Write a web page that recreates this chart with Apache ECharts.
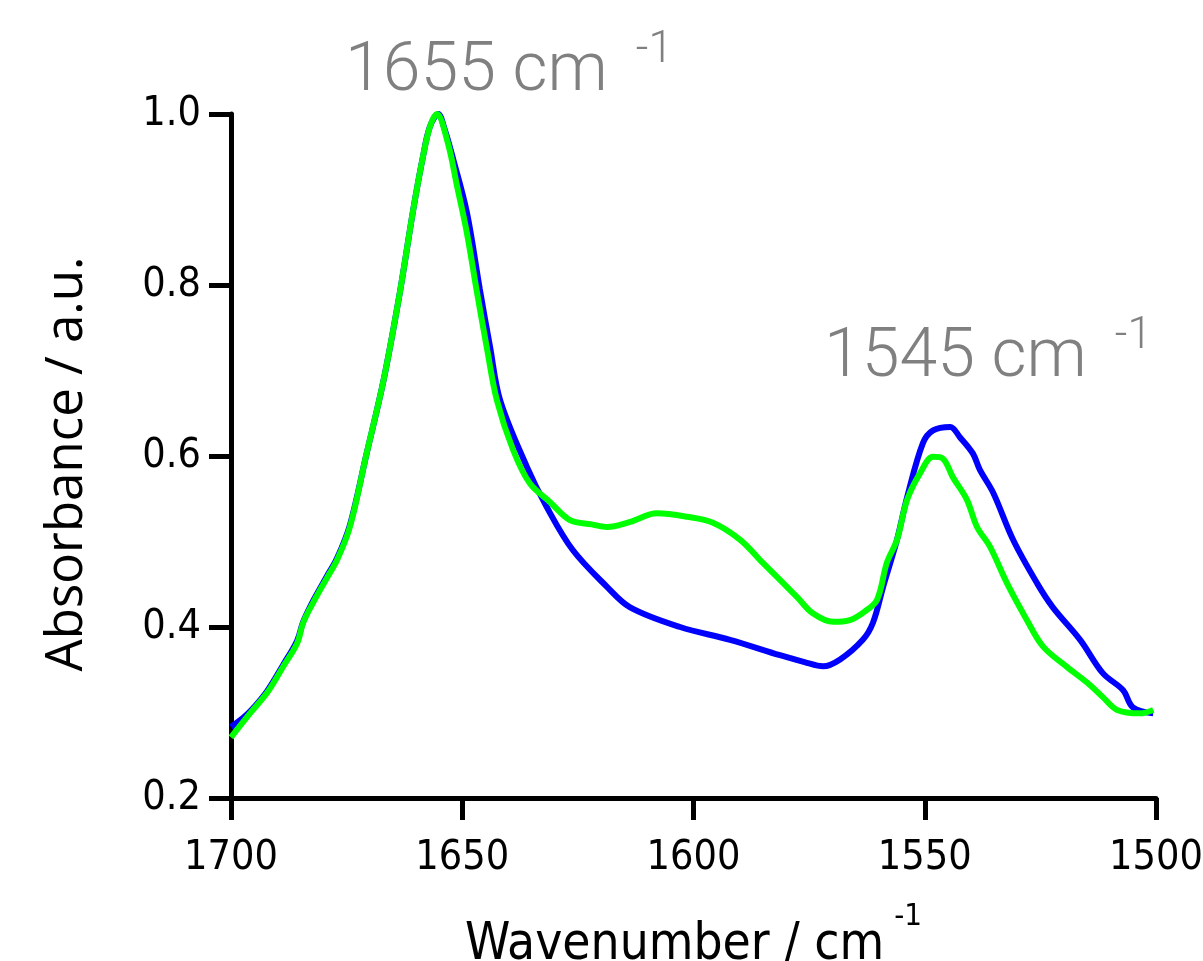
<!DOCTYPE html>
<html>
<head>
<meta charset="utf-8">
<script src="https://cdn.jsdelivr.net/npm/echarts@6/dist/echarts.min.js"></script>
<style>
html,body{margin:0;padding:0;background:#fff;overflow:hidden;}
#main{width:1203px;height:961px;}
</style>
</head>
<body>
<div id="main"></div>
<script>
// ---- data ----
const xTicks = [1700, 1650, 1600, 1550, 1500];
const yTicks = [0.2, 0.4, 0.6, 0.8, 1.0];

const blueWavenumber = [1700.0,1697.8,1695.9,1692.2,1688.8,1685.7,1684.4,1682.3,1679.2,1677.1,1674.3,1670.8,1667.0,1663.5,1660.6,1658.5,1657.0,1655.2,1653.8,1652.0,1649.0,1646.2,1644.0,1641.8,1636.0,1631.7,1626.1,1618.7,1613.7,1602.9,1592.1,1581.3,1576.0,1572.0,1568.3,1563.4,1561.2,1559.0,1556.0,1553.8,1550.4,1548.2,1544.5,1542.4,1539.6,1538.1,1535.2,1530.9,1525.7,1522.3,1516.4,1511.5,1507.1,1505.0,1500.6];
const blueAbsorbance = [0.283,0.292,0.301,0.325,0.355,0.384,0.406,0.430,0.460,0.480,0.519,0.600,0.689,0.791,0.888,0.950,0.985,1.000,0.982,0.948,0.885,0.795,0.728,0.665,0.587,0.540,0.490,0.447,0.423,0.400,0.385,0.367,0.359,0.354,0.362,0.385,0.405,0.447,0.502,0.552,0.615,0.630,0.634,0.622,0.603,0.584,0.557,0.502,0.451,0.423,0.385,0.346,0.326,0.306,0.299];

const greenWavenumber = [1700.0,1695.9,1692.2,1688.8,1685.7,1684.4,1682.3,1679.2,1677.1,1674.3,1670.8,1667.0,1663.5,1660.6,1658.5,1657.0,1655.5,1653.1,1651.1,1649.0,1646.8,1644.6,1642.5,1639.0,1635.4,1631.0,1626.7,1622.0,1618.7,1613.7,1607.9,1601.4,1595.8,1589.9,1585.0,1577.6,1574.2,1569.8,1566.2,1563.0,1560.3,1558.2,1556.0,1553.8,1551.0,1548.2,1546.1,1543.9,1540.9,1538.7,1535.9,1532.2,1527.9,1524.4,1519.2,1514.9,1511.5,1508.4,1503.5,1500.6];
const greenAbsorbance = [0.271,0.299,0.323,0.353,0.381,0.405,0.428,0.458,0.478,0.517,0.600,0.689,0.791,0.888,0.950,0.985,1.000,0.966,0.915,0.861,0.791,0.724,0.665,0.607,0.568,0.546,0.525,0.520,0.517,0.523,0.533,0.529,0.522,0.502,0.475,0.435,0.416,0.406,0.408,0.418,0.432,0.475,0.502,0.549,0.580,0.599,0.597,0.575,0.549,0.517,0.494,0.451,0.408,0.377,0.353,0.335,0.318,0.303,0.299,0.303];

const peakLabels = ['1655 cm', '1545 cm'];
const xName = 'Wavenumber / cm';
const yName = 'Absorbance / a.u.';

// ---- chart ----
const zip = (xs, ys) => xs.map((x, i) => [x, ys[i]]);
const chart = echarts.init(document.getElementById('main'), null, {renderer: 'canvas'});

const tickFont = "'DejaVu Sans Condensed', 'DejaVu Sans', sans-serif";
const annFont = "'Roboto Light', Roboto, sans-serif";
const annRich = {
  n: {fontFamily: annFont, fontWeight: 300, fontSize: 68, fill: '#808080', lineHeight: 68},
  s: {fontFamily: annFont, fontWeight: 300, fontSize: 44, fill: '#808080', lineHeight: 44, padding: [0, 0, 42, 28]}
};

chart.setOption({
  animation: false,
  backgroundColor: '#ffffff',
  grid: {left: 231, right: 47, top: 114, bottom: 163, containLabel: false, outerBoundsMode: 'none'},
  xAxis: {
    type: 'value', min: xTicks[xTicks.length - 1], max: xTicks[0], interval: 50, inverse: true,
    axisLine: {show: true, onZero: false, lineStyle: {color: '#000', width: 5}},
    axisTick: {show: true, length: 22, lineStyle: {color: '#000', width: 5}},
    axisLabel: {margin: 40, color: '#000', fontSize: 41, fontFamily: tickFont, formatter: v => String(v)},
    splitLine: {show: false},
    name: '{t|' + xName + '}{s|-1}',
    nameLocation: 'middle', nameGap: 122,
    nameTextStyle: {
      rich: {
        t: {fontFamily: tickFont, fontSize: 51, color: '#000', lineHeight: 51},
        s: {fontFamily: tickFont, fontSize: 31, color: '#000', lineHeight: 31, padding: [0, 0, 58, 10]}
      }
    }
  },
  yAxis: {
    type: 'value', min: yTicks[0], max: yTicks[yTicks.length - 1], interval: 0.2,
    axisLine: {show: true, onZero: false, lineStyle: {color: '#000', width: 5}},
    axisTick: {show: true, length: 22, lineStyle: {color: '#000', width: 5}},
    axisLabel: {margin: 30, color: '#000', fontSize: 41, fontFamily: tickFont, formatter: v => v.toFixed(1)},
    splitLine: {show: false},
    name: yName, nameLocation: 'middle', nameGap: 138,
    nameTextStyle: {fontFamily: "'Open Sans', sans-serif", fontSize: 51, color: '#000', padding: [0, 16, 0, 0]}
  },
  series: [
    {type: 'line', name: 'blue', data: zip(blueWavenumber, blueAbsorbance), showSymbol: false, smooth: 0.35,
     lineStyle: {color: '#0000ff', width: 6}, z: 2},
    {type: 'line', name: 'green', data: zip(greenWavenumber, greenAbsorbance), showSymbol: false, smooth: 0.35,
     lineStyle: {color: '#00ff00', width: 6}, z: 3}
  ],
  graphic: [
    {type: 'text', left: 345, top: 27, style: {text: '{n|' + peakLabels[0] + '}{s|-1}', rich: annRich}},
    {type: 'text', left: 824, top: 313, style: {text: '{n|' + peakLabels[1] + '}{s|-1}', rich: annRich}}
  ]
});
</script>
</body>
</html>
